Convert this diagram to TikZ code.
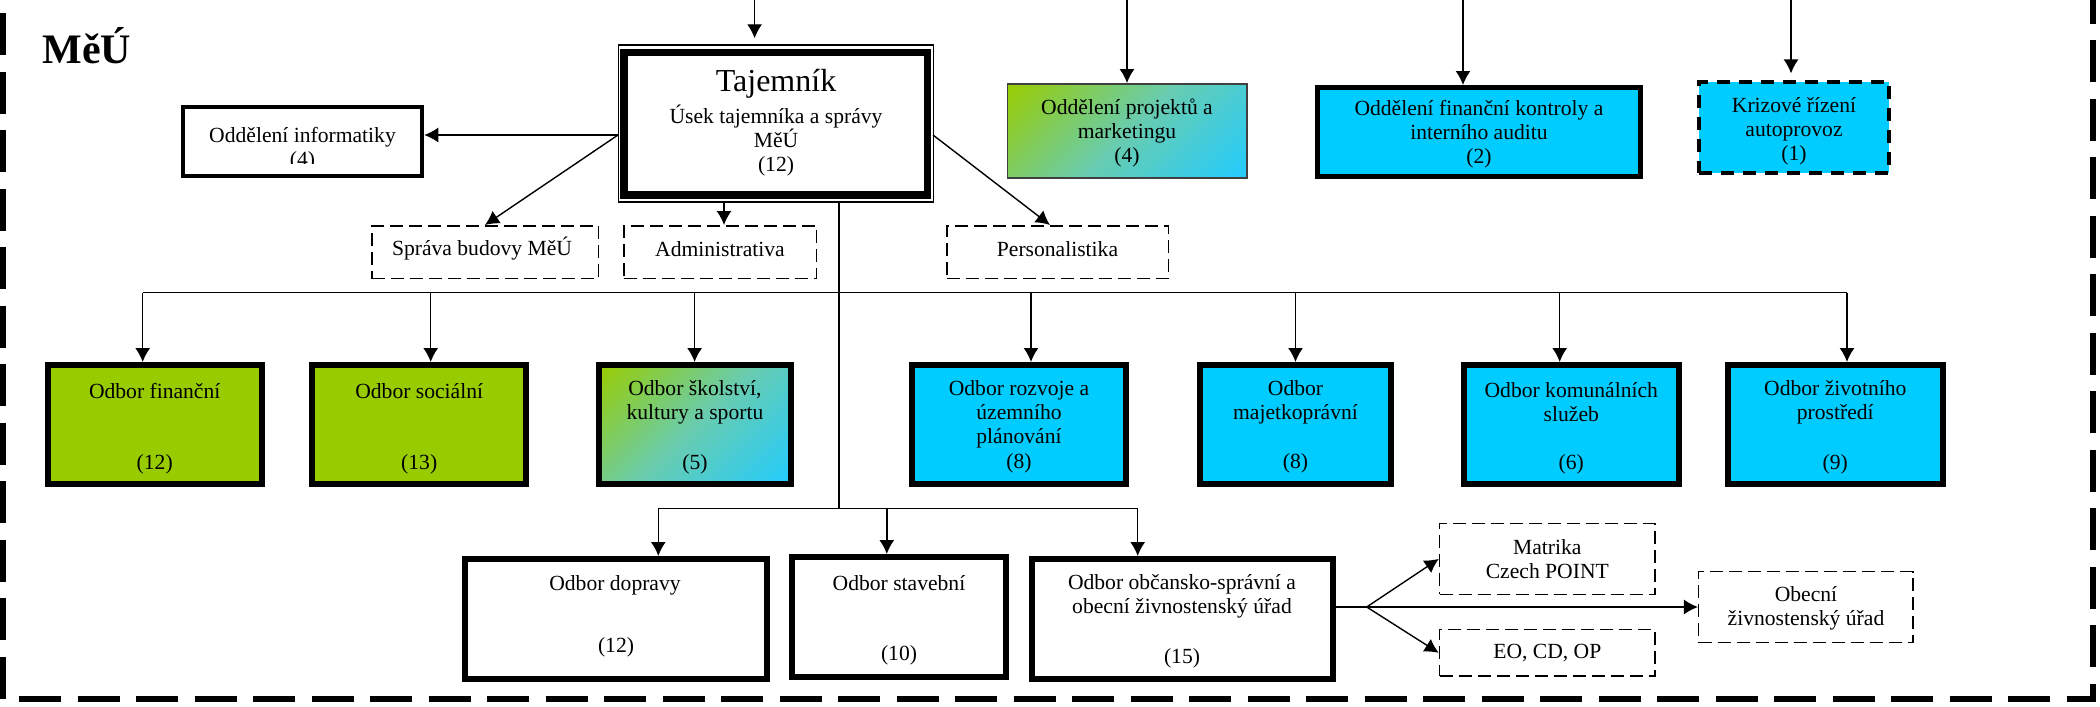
\documentclass[tikz,border=0pt]{standalone}
\usepackage{fontspec}
\setmainfont{Liberation Serif}
\usetikzlibrary{fit,arrows.meta}
\definecolor{mgreen}{HTML}{99CC00}
\definecolor{mcyan}{HTML}{00CCFF}
\definecolor{mcyanl}{HTML}{22CCFF}
\definecolor{mteal}{RGB}{105,204,175}
\pgfdeclareverticalshading{mydiag}{100bp}{color(0bp)=(mcyanl); color(14.6bp)=(mcyanl); color(50bp)=(mteal); color(85.4bp)=(mgreen); color(100bp)=(mgreen)}
\begin{document}
\begin{tikzpicture}[x=0.5pt,y=-0.5pt,
  conn/.style={line width=0.7pt},
  arr/.style={conn,-{Latex[length=7pt,width=7.5pt]}},
  fitbox/.style={inner sep=0pt,outer sep=auto},
  thickbox/.style={fitbox,draw,line width=3pt},
  greenbox/.style={thickbox,fill=mgreen},
  cyanbox/.style={thickbox,fill=mcyan},
  whitebox/.style={thickbox,fill=white},
  gradfill/.style={shading=mydiag,shading angle=45},
  dashbox/.style={fitbox,draw,line width=0.75pt,dash pattern=on 6.5pt off 3pt},
  txt/.style={align=center,inner sep=0pt,font=\fontsize{10.8}{12}\selectfont},
  outerframe/.style={line width=3pt,dash pattern=on 21pt off 8.25pt}
]
\useasboundingbox (0,0) rectangle (2100,707);

% outer frame
\draw[outerframe] (3,-45.5) -- (3,699) -- (2093,699) -- (2093,-45.5);

% title
\node[font=\bfseries\fontsize{21}{24}\selectfont,anchor=base west,inner sep=0pt] (title) at (42,63.3) {MěÚ};

% top row
\node[fitbox,draw,line width=2.25pt,fill=white,fit={(183,107) (422,176)}] (inf) {};
\begin{scope}
  \clip (185,110) rectangle (420,163.5);
  \node[txt] (inft) at (302.5,148.7) {Oddělení informatiky\\(4)};
\end{scope}

\node[fitbox,draw,line width=0.75pt,fill=white,fit={(618.7,45) (933.3,202)}] (taj) {};
\draw[line width=3.75pt] ([xshift=3pt,yshift=4pt]taj.south west) rectangle ([xshift=-3.25pt,yshift=-4pt]taj.north east);
\node[font=\fontsize{16}{18}\selectfont,inner sep=0pt] (tajt) at (776,84) {Tajemník};
\node[txt] (taju) at (776,141) {Úsek tajemníka a správy\\MěÚ\\(12)};

\node[fitbox,draw=black!75,line width=0.75pt,gradfill,fit={(1007.4,83.8) (1247.2,177.8)}] (proj) {};
\node[txt] (projt) at (1127,133.3) {Oddělení projektů a\\marketingu\\(4)};

\node[cyanbox,line width=2.5pt,fit={(1317.8,87.5) (1640.5,176.5)}] (fink) {};
\node[txt] (finkt) at (1479,134.5) {Oddělení finanční kontroly a\\interního auditu\\(2)};

\node[fitbox,draw,fill=mcyan,line width=2pt,dash pattern=on 6.5pt off 4.5pt,fit={(1699,82) (1889,173)}] (kriz) {};
\node[txt] (krizt) at (1794,131) {Krizové řízení\\autoprovoz\\(1)};

% dashed sub-units
\node[dashbox,fit={(371.75,225.75) (598.25,278.5)}] (sprava) {};
\node[txt] (spravat) at (482,249) {Správa budovy MěÚ};
\node[dashbox,fit={(623.75,225.75) (816.25,278.5)}] (admin) {};
\node[txt] (admint) at (720,249) {Administrativa};
\node[dashbox,fit={(946.75,225.75) (1168.25,278.5)}] (pers) {};
\node[txt] (perst) at (1057.5,249) {Personalistika};

% row 2
\node[greenbox,fit={(47.9,365) (261.6,484)}] (fin) {};
\node[txt] (fint) at (154.7,391) {Odbor finanční};
\node[txt] (finn) at (154.7,464) {(12)};

\node[greenbox,fit={(312.4,365) (526.1,484)}] (soc) {};
\node[txt] (soct) at (419.2,391) {Odbor sociální};
\node[txt] (socn) at (419.2,464) {(13)};

\node[thickbox,gradfill,fit={(599,365) (790.7,484)}] (skol) {};
\node[txt] (skolt) at (694.9,402.5) {Odbor školství,\\kultury a sportu};
\node[txt] (skoln) at (694.9,464) {(5)};

\node[cyanbox,fit={(912,365) (1126,484)}] (rozv) {};
\node[txt] (rozvt) at (1019,414.5) {Odbor rozvoje a\\územního\\plánování};
\node[txt] (rozvn) at (1019,463.5) {(8)};

\node[cyanbox,fit={(1200.4,365) (1390.6,484)}] (majet) {};
\node[txt] (majett) at (1295.5,402.5) {Odbor\\majetkoprávní};
\node[txt] (majetn) at (1295.5,463.5) {(8)};

\node[cyanbox,fit={(1464,365) (1678.6,484)}] (komun) {};
\node[txt] (komunt) at (1571.3,402.5) {Odbor komunálních\\služeb};
\node[txt] (komunn) at (1571.3,464) {(6)};

\node[cyanbox,fit={(1728,365) (1942.5,484)}] (zivot) {};
\node[txt] (zivott) at (1835.3,402.5) {Odbor životního\\prostředí};
\node[txt] (zivotn) at (1835.3,464) {(9)};

% row 3
\node[whitebox,fit={(464.7,559) (766.8,678.7)}] (dopr) {};
\node[txt] (doprt) at (615,585) {Odbor dopravy};
\node[txt] (doprn) at (616,647) {(12)};

\node[whitebox,fit={(792.2,557) (1005.5,677)}] (stav) {};
\node[txt] (stavt) at (899,583.3) {Odbor stavební};
\node[txt] (stavn) at (899,655) {(10)};

\node[whitebox,fit={(1031.6,559) (1332.7,678.7)}] (obc) {};
\node[txt] (obct) at (1182,596.7) {Odbor občansko-správní a\\obecní živnostenský úřad};
\node[txt] (obcn) at (1182,658.3) {(15)};

\node[dashbox,fit={(1439.5,523.5) (1655,594.3)}] (matr) {};
\node[txt] (matrt) at (1547.3,559.3) {Matrika\\Czech POINT};
\node[dashbox,fit={(1439.5,629.7) (1655,676)}] (eo) {};
\node[txt] (eot) at (1547.3,653) {EO, CD, OP};
\node[dashbox,fit={(1698.7,571.5) (1913,642.5)}] (obz) {};
\node[txt] (obzt) at (1806,608.3) {Obecní\\živnostenský úřad};

% connectors from above
\coordinate (t1) at (754.6,-5);
\coordinate (t2) at (1127,-5);
\coordinate (t3) at (1463,-5);
\coordinate (t4) at (1791,-5);
\draw[arr,shorten >=3pt] (t1) -- (t1 |- taj.north);
\draw[arr] (t2) -- (t2 |- proj.north);
\draw[arr] (t3) -- (t3 |- fink.north);
\draw[arr,shorten >=3.3pt] (t4) -- (t4 |- kriz.north);

% Tajemnik connectors
\coordinate (tL) at (618,135);
\coordinate (tR) at (933,135);
\coordinate (tB) at (724,202);
\draw[arr] (tL) -- (inf.east |- tL);
\draw[arr] (tL) -- (sprava.north);
\draw[arr] (tB) -- (tB |- admin.north);
\draw[arr] (tR) -- ([xshift=-3.75pt]pers.north);

% trunk and buses
\coordinate (tr0) at (839,202);
\coordinate (tr2) at (839,508.3);
\draw[conn] (tr0) -- (tr2);
\coordinate (b1) at (142.7,292.7);
\coordinate (b2) at (430.7,292.7);
\coordinate (b3) at (694.6,292.7);
\coordinate (b4) at (1031,292.7);
\coordinate (b5) at (1295.5,292.7);
\coordinate (b6) at (1559.7,292.7);
\coordinate (b7) at (1847,292.7);
\draw[conn] (b1) -- (b7);
\draw[arr] (b1) -- (b1 |- fin.north);
\draw[arr] (b2) -- (b2 |- soc.north);
\draw[arr] (b3) -- (b3 |- skol.north);
\draw[arr] (b4) -- (b4 |- rozv.north);
\draw[arr] (b5) -- (b5 |- majet.north);
\draw[arr] (b6) -- (b6 |- komun.north);
\draw[arr] (b7) -- (b7 |- zivot.north);

\coordinate (c1) at (658.3,508.3);
\coordinate (c2) at (886.8,508.3);
\coordinate (c3) at (1137.7,508.3);
\draw[conn] (c1) -- (c3);
\draw[arr] (c1) -- (c1 |- dopr.north);
\draw[arr] (c2) -- (c2 |- stav.north);
\draw[arr] (c3) -- (c3 |- obc.north);

% right branch
\coordinate (fork) at (1366.7,607);
\draw[arr] (obc.east |- obz.west) -- (obz.west);
\draw[arr] (fork) -- (matr.west);
\draw[arr] (fork) -- (eo.west);
\end{tikzpicture}
\end{document}
